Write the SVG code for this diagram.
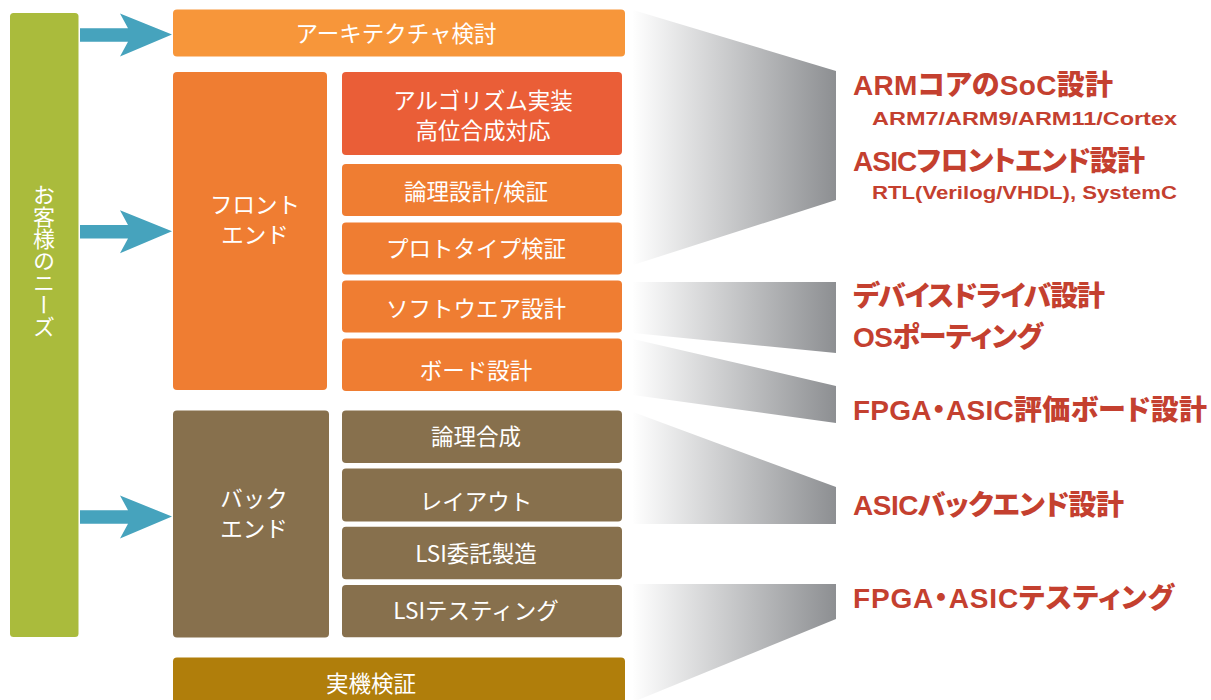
<svg xmlns="http://www.w3.org/2000/svg" width="1211" height="700" viewBox="0 0 1211 700">
  <style>
    .lbl { font-family: 'Noto Sans CJK JP', 'Noto Sans CJK SC', sans-serif; font-size: 22.5px; fill: #ffffff; text-anchor: middle; }
    .out { font-family: 'Liberation Sans', 'Noto Sans CJK JP', sans-serif; font-weight: 900; fill: #C4402F; font-feature-settings: "palt"; }
    .big { font-size: 28px; }
    .sub { font-size: 17.5px; font-weight: bold; }
    .fan { fill: url(#fanGrad); }
    .arrow { fill: #46A3BD; }
  </style>
  <defs>
    <linearGradient id="fanGrad" gradientUnits="userSpaceOnUse" x1="632" y1="0" x2="836" y2="0">
      <stop offset="0" stop-color="#ffffff"/>
      <stop offset="1" stop-color="#8D8F92"/>
    </linearGradient>
    <path id="arrowShape" d="M0,-6.8 H48 L40,-21.5 L92,-0.5 L40,21.5 L48,6.8 H0 Z"/>
  </defs>
  <rect width="1211" height="700" fill="#ffffff"/>

  <g id="connectors">
    <g id="fans">
      <polygon class="fan" points="633,10 836,71 836,200 633,265"/>
      <polygon class="fan" points="633,282 836,282 836,353 633,333"/>
      <polygon class="fan" points="633,339 836,386 836,423 633,395"/>
      <polygon class="fan" points="633,412 836,487 836,524 633,524"/>
      <polygon class="fan" points="633,584 836,584 836,619 633,702"/>
    </g>
    <g id="arrows">
      <use href="#arrowShape" class="arrow" x="80" y="35"/>
      <use href="#arrowShape" class="arrow" x="80" y="231.7"/>
      <use href="#arrowShape" class="arrow" x="80" y="517"/>
    </g>
  </g>

  <g id="needs">
    <rect x="10" y="13" width="68.5" height="624" rx="3.5" fill="#AABB3C"/>
    <text x="44" y="261" style="font-family: 'Noto Sans CJK JP', sans-serif; font-size: 22px; fill: #ffffff; writing-mode: vertical-rl; text-anchor: middle;">お客様のニーズ</text>
  </g>

  <g id="architecture">
    <rect x="173" y="9.5" width="452" height="47" rx="4" fill="#F7963A"/>
    <text class="lbl" x="396" y="42">アーキテクチャ検討</text>
  </g>

  <g id="frontend">
    <rect x="173" y="72" width="154" height="318" rx="4" fill="#EF7D32"/>
    <text class="lbl"><tspan x="255" y="213">フロント</tspan><tspan x="255" y="243">エンド</tspan></text>
  </g>

  <g id="algorithm">
    <rect x="342" y="72" width="280" height="83" rx="4" fill="#EA5E37"/>
    <text class="lbl"><tspan x="483" y="108.5">アルゴリズム実装</tspan><tspan x="483" y="139">高位合成対応</tspan></text>
  </g>

  <g id="logic-design">
    <rect x="342" y="164" width="280" height="52" rx="4" fill="#EF7D32"/>
    <text class="lbl" x="476" y="200">論理設計/検証</text>
  </g>

  <g id="prototype">
    <rect x="342" y="222.5" width="280" height="52" rx="4" fill="#EF7D32"/>
    <text class="lbl" x="476" y="257">プロトタイプ検証</text>
  </g>

  <g id="software">
    <rect x="342" y="280.5" width="280" height="52" rx="4" fill="#EF7D32"/>
    <text class="lbl" x="476" y="317">ソフトウエア設計</text>
  </g>

  <g id="board">
    <rect x="342" y="338.5" width="280" height="52.5" rx="4" fill="#EF7D32"/>
    <text class="lbl" x="476" y="378.5">ボード設計</text>
  </g>

  <g id="backend">
    <rect x="173" y="410.5" width="156" height="227" rx="4" fill="#87704D"/>
    <text class="lbl"><tspan x="254" y="507">バック</tspan><tspan x="254" y="537">エンド</tspan></text>
  </g>

  <g id="synthesis">
    <rect x="342" y="410.5" width="280" height="52.5" rx="4" fill="#87704D"/>
    <text class="lbl" x="476" y="445">論理合成</text>
  </g>

  <g id="layout">
    <rect x="342" y="468.5" width="280" height="53" rx="4" fill="#87704D"/>
    <text class="lbl" x="476" y="510">レイアウト</text>
  </g>

  <g id="manufacturing">
    <rect x="342" y="526.7" width="280" height="52.6" rx="4" fill="#87704D"/>
    <text class="lbl" x="476" y="562">LSI委託製造</text>
  </g>

  <g id="lsi-testing">
    <rect x="342" y="585" width="280" height="52.3" rx="4" fill="#87704D"/>
    <text class="lbl" x="476" y="618.5">LSIテスティング</text>
  </g>

  <g id="verification">
    <rect x="173" y="657.5" width="452" height="50" rx="4" fill="#B07E0B"/>
    <text class="lbl" x="371" y="692">実機検証</text>
  </g>

  <g id="out-arm">
    <text class="out big" x="853" y="95" textLength="260" lengthAdjust="spacing">ARMコアのSoC設計</text>
    <text class="out sub" x="872" y="125" textLength="305" lengthAdjust="spacingAndGlyphs">ARM7/ARM9/ARM11/Cortex</text>
  </g>
  <g id="out-asic-front">
    <text class="out big" x="853" y="171" textLength="292" lengthAdjust="spacing">ASICフロントエンド設計</text>
    <text class="out sub" x="872" y="199" textLength="305" lengthAdjust="spacingAndGlyphs">RTL(Verilog/VHDL), SystemC</text>
  </g>
  <g id="out-driver">
    <text class="out big" x="853" y="306" textLength="252" lengthAdjust="spacing">デバイスドライバ設計</text>
    <text class="out big" x="853" y="347" textLength="190" lengthAdjust="spacing">OSポーティング</text>
  </g>
  <g id="out-board">
    <text class="out big" x="853" y="420" textLength="354" lengthAdjust="spacing">FPGA・ASIC評価ボード設計</text>
  </g>
  <g id="out-asic-back">
    <text class="out big" x="853" y="515" textLength="271" lengthAdjust="spacing">ASICバックエンド設計</text>
  </g>
  <g id="out-testing">
    <text class="out big" x="853" y="608" textLength="321" lengthAdjust="spacing">FPGA・ASICテスティング</text>
  </g>
</svg>
